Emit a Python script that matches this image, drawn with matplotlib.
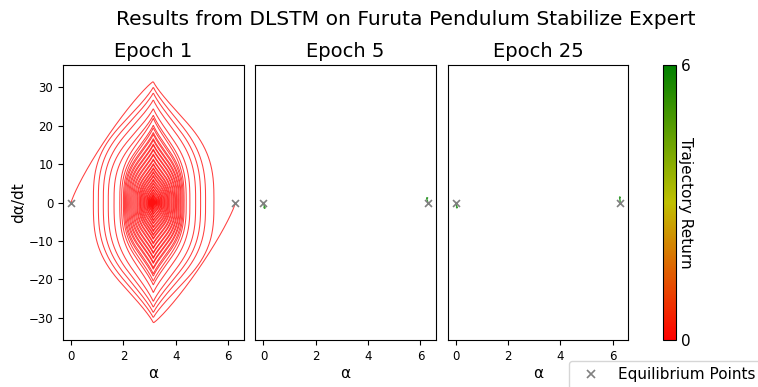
import numpy as np
import matplotlib
matplotlib.use("Agg")
import matplotlib.pyplot as plt
from matplotlib.colors import LinearSegmentedColormap, Normalize
from matplotlib.lines import Line2D

TWO_PI = 2 * np.pi

# Turning points (alpha at zero velocity) and signed peak velocity per half swing
swing_a_turns = [0.00, 5.46, 1.04, 4.95, 1.42, 4.54, 1.86, 4.32, 2.00, 4.24, 2.08, 4.17,
                 2.16, 4.10, 2.24, 4.03, 2.32, 3.96, 2.40, 3.89, 2.48, 3.82, 2.55, 3.75,
                 2.62, 3.69, 2.68, 3.63, 2.74, 3.57, 2.80, 3.51, 2.86, 3.46, 2.91, 3.41,
                 2.96, 3.36, 3.00, 3.31, 3.04, 3.27, 3.07, 3.23, 3.10, 3.20, 3.12, 3.17, 3.14]
swing_a_peaks = [31.5, -30.0, 28.6, -27.3, 24.5, -23.5, 22.0, -20.5, 19.5, -18.6, 17.8, -17.0,
                 16.3, -15.6, 15.0, -14.3, 13.7, -13.0, 12.4, -11.7, 11.1, -10.5, 9.9, -9.3,
                 8.8, -8.3, 7.8, -7.3, 6.8, -6.3, 5.8, -5.3, 4.9, -4.5, 4.1, -3.7,
                 3.3, -2.9, 2.5, -2.2, 1.9, -1.6, 1.3, -1.05, 0.8, -0.65, 0.4, -0.2]

swing_b_turns = [6.283, 0.85, 5.14, 1.23, 4.76, 1.64, 4.40, 1.93, 4.28, 2.04, 4.20, 2.12,
                 4.13, 2.20, 4.06, 2.28, 3.99, 2.36, 3.92, 2.44, 3.85, 2.52, 3.78, 2.59,
                 3.72, 2.65, 3.66, 2.71, 3.60, 2.77, 3.54, 2.83, 3.48, 2.89, 3.43, 2.94,
                 3.38, 2.98, 3.34, 3.02, 3.29, 3.05, 3.25, 3.08, 3.21, 3.11, 3.18, 3.13, 3.15]
swing_b_peaks = [-31.3, 30.1, -28.7, 26.8, -25.8, 22.8, -21.5, 20.2, -19.2, 18.3, -17.4, 16.7,
                 -15.9, 15.3, -14.6, 14.0, -13.3, 12.7, -12.0, 11.4, -10.8, 10.2, -9.6, 9.1,
                 -8.6, 8.1, -7.6, 7.1, -6.6, 6.1, -5.6, 5.2, -4.7, 4.3, -3.9, 3.5,
                 -3.1, 2.8, -2.5, 2.1, -1.8, 1.6, -1.3, 1.05, -0.8, 0.55, -0.4, 0.2]

epoch1_returns = [0.0, 0.0]

# Later epochs: short wobbles right at the upright positions
ep5_alpha_lo = [0.00, 0.01, 0.03, 0.05, 0.06, 0.05, 0.03, 0.02]
ep5_vel_lo = [0.0, -0.4, -0.8, -1.1, -1.3, -1.5, -1.4, -1.2]
ep5_alpha_hi = [6.283, 6.27, 6.25, 6.24, 6.25, 6.27]
ep5_vel_hi = [0.0, 0.4, 0.8, 1.1, 1.3, 1.2]
ep25_alpha_lo = [0.00, 0.01, 0.03, 0.04, 0.05, 0.04, 0.03]
ep25_vel_lo = [0.0, -0.4, -0.8, -1.1, -1.3, -1.4, -1.2]
ep25_alpha_hi = [6.283, 6.28, 6.27, 6.26, 6.27, 6.28]
ep25_vel_hi = [0.0, 0.5, 0.9, 1.3, 1.5, 1.3]
later_returns = [5.9, 5.9]

eq_alpha = [0.0, TWO_PI]
eq_vel = [0.0, 0.0]

cmap = LinearSegmentedColormap.from_list("ret", ["red", "y", "green"])
norm = Normalize(vmin=0, vmax=6)
CENTER = np.pi


def profile(s, released):
    # velocity shape across a swing: s=-1..1, peak at the bottom position
    s = np.abs(s)
    if released:
        # leaving an upright rest point: slow start
        return (1 - s ** 1.15) ** 0.85
    return (1 - 0.55 * s ** 0.85) * (1 - s ** 6) ** 0.33


def half_swing(a0, a1, peak, first=False, n=300):
    phi = np.linspace(0, np.pi, n)
    s = -np.cos(phi)
    if a1 < a0:
        s = -s
    left = CENTER - min(a0, a1)
    right = max(a0, a1) - CENTER
    alpha = np.where(s < 0, CENTER + s * left, CENTER + s * right)
    shape = profile(s, False)
    if first:
        # the side the swing starts from follows the released profile
        start_side = (s < 0) if a0 < a1 else (s > 0)
        shape = np.where(start_side, profile(s, True), shape)
    return alpha, peak * shape


def trajectory(turns, peaks):
    xs, ys = [], []
    for i, p in enumerate(peaks):
        a, v = half_swing(turns[i], turns[i + 1], p, first=(i == 0))
        xs.append(a)
        ys.append(v)
    return np.concatenate(xs), np.concatenate(ys)


fig, axes = plt.subplots(1, 3, sharey=True, figsize=(7.58, 3.87), dpi=100)
fig.subplots_adjust(left=0.083, right=0.829, bottom=0.121, top=0.832, wspace=0.064)

ax = axes[0]
for (turns, peaks), ret in zip([(swing_a_turns, swing_a_peaks), (swing_b_turns, swing_b_peaks)],
                               epoch1_returns):
    x, y = trajectory(turns, peaks)
    ax.plot(x, y, color=cmap(norm(ret)), lw=0.75, alpha=0.75)

later = [
    (axes[1], [(ep5_alpha_lo, ep5_vel_lo), (ep5_alpha_hi, ep5_vel_hi)]),
    (axes[2], [(ep25_alpha_lo, ep25_vel_lo), (ep25_alpha_hi, ep25_vel_hi)]),
]
for ax, runs in later:
    for (a, v), ret in zip(runs, later_returns):
        ax.plot(a, v, color=cmap(norm(ret)), lw=1.0, alpha=0.8)

titles = ["Epoch 1", "Epoch 5", "Epoch 25"]
for ax, t in zip(axes, titles):
    ax.scatter(eq_alpha, eq_vel, marker="x", color="gray", s=25, linewidths=1.2, zorder=5)
    ax.set_title(t, fontsize=14)
    ax.set_xlabel("α", fontsize=11, labelpad=2)
    ax.set_xlim(-0.314, 6.597)
    ax.set_xticks([0, 2, 4, 6])
    ax.tick_params(labelsize=8.5)
axes[0].set_ylim(-35.8, 35.8)
axes[0].set_ylabel("dα/dt", fontsize=11, labelpad=2)
for ax in axes[1:]:
    ax.tick_params(axis="y", left=False, labelleft=False)

fig.suptitle("Results from DLSTM on Furuta Pendulum Stabilize Expert", fontsize=14.6, x=0.535, y=0.975)

cax = fig.add_axes([0.8747, 0.1214, 0.0172, 0.7106])
sm = plt.cm.ScalarMappable(cmap=cmap, norm=norm)
cbar = fig.colorbar(sm, cax=cax, ticks=[0, 6])
cbar.ax.tick_params(length=0, labelsize=11)
cbar.set_label("Trajectory Return", rotation=270, fontsize=11, labelpad=1.5)

handle = Line2D([], [], marker="x", color="gray", linestyle="none", markersize=6, markeredgewidth=1.2)
fig.legend([handle], ["Equilibrium Points"], loc="upper left", bbox_to_anchor=(0.741, 0.086),
           fontsize=11)

fig.savefig("out.png", dpi=100)
